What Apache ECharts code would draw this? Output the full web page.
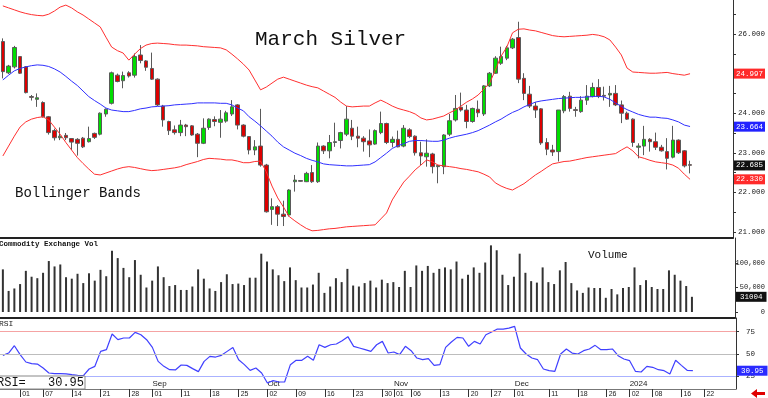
<!DOCTYPE html>
<html>
<head>
<meta charset="utf-8">
<script src="https://cdn.jsdelivr.net/npm/echarts@6/dist/echarts.min.js"></script>
<style>
  html, body { margin: 0; padding: 0; background: #fff; }
  #chart { width: 768px; height: 398px; }
</style>
</head>
<body>
<div id="chart"></div>
<script>
// trading days shown on the axis (last 7 are empty future slots)
const tradingDays = {
  '2023-07': [27, 28, 31],
  '2023-08': [1, 2, 3, 4, 7, 8, 9, 10, 11, 14, 15, 16, 17, 18, 21, 22, 23, 24, 25, 28, 29, 30, 31],
  '2023-09': [1, 5, 6, 7, 8, 11, 12, 13, 14, 15, 18, 19, 20, 21, 22, 25, 26, 27, 28, 29],
  '2023-10': [2, 3, 4, 5, 6, 9, 10, 11, 12, 13, 16, 17, 18, 19, 20, 23, 24, 25, 26, 27, 30, 31],
  '2023-11': [1, 2, 3, 6, 7, 8, 9, 10, 13, 14, 15, 16, 17, 20, 21, 22, 24, 27, 28, 29, 30],
  '2023-12': [1, 4, 5, 6, 7, 8, 11, 12, 13, 14, 15, 18, 19, 20, 21, 22, 26, 27, 28, 29],
  '2024-01': [2, 3, 4, 5, 8, 9, 10, 11, 12, 16, 17, 18, 19, 22, 23, 24, 25, 26, 29],
}

const tickDates = [
  '2023-08-01', '2023-08-07', '2023-08-14', '2023-08-21', '2023-08-28',
  '2023-09-01', '2023-09-11', '2023-09-18', '2023-09-25',
  '2023-10-02', '2023-10-09', '2023-10-16', '2023-10-23', '2023-10-30',
  '2023-11-01', '2023-11-06', '2023-11-13', '2023-11-20', '2023-11-27',
  '2023-12-01', '2023-12-11', '2023-12-18', '2023-12-26',
  '2024-01-02', '2024-01-08', '2024-01-16', '2024-01-22',
]
const monthDates = ['2023-09-01', '2023-10-02', '2023-11-01', '2023-12-01', '2024-01-02']
const monthNames = ['Sep', 'Oct', 'Nov', 'Dec', '2024']

const opens = [
  25.81, 25.02, 25.17, 25.43, 25.17, 24.42, 24.35, 24.27, 23.91, 23.56,
  23.38, 23.44, 23.36, 23.34, 23.37, 23.28, 23.49, 23.47, 23.98, 24.25,
  24.96, 24.82, 25.02, 24.96, 25.47, 25.32, 25.13, 24.86, 24.18, 23.79,
  23.58, 23.51, 23.70, 23.68, 23.47, 23.24, 23.64, 23.84, 23.77, 23.80,
  23.98, 24.21, 23.70, 23.41, 23.07, 23.17, 22.69, 21.57, 21.64, 21.45,
  21.43, 22.27, 22.30, 22.27, 22.50, 22.27, 23.17, 23.05, 23.26, 23.31,
  23.47, 23.62, 23.42, 23.37, 23.30, 23.22, 23.51, 23.74, 23.26, 23.34,
  23.17, 23.58, 23.42, 23.00, 22.90, 22.97, 22.65, 22.65, 23.47, 23.83,
  24.15, 24.08, 23.79, 24.10, 23.98, 24.69, 25.01, 25.26, 25.39, 25.65,
  25.91, 24.88, 24.48, 24.18, 24.11, 23.26, 23.07, 23.03, 24.06, 24.43,
  24.09, 24.04, 24.33, 24.42, 24.65, 24.45, 24.46, 24.50, 24.21, 24.00,
  23.85, 23.14, 23.17, 23.34, 23.28, 23.14, 23.03, 22.89, 23.32, 23.05,
  22.70,
]
const closes = [
  25.05, 25.19, 25.66, 25.01, 24.52, 24.40, 24.39, 23.91, 23.51, 23.38,
  23.42, 23.38, 23.27, 23.24, 23.15, 23.36, 23.39, 24.00, 24.10, 25.02,
  24.80, 24.95, 24.94, 25.43, 25.33, 25.16, 24.86, 24.21, 23.83, 23.56,
  23.51, 23.70, 23.66, 23.45, 23.24, 23.62, 23.85, 23.79, 23.85, 24.01,
  24.16, 23.70, 23.42, 23.07, 23.15, 22.69, 21.51, 21.64, 21.45, 21.39,
  22.06, 22.31, 22.28, 22.48, 22.27, 23.17, 23.05, 23.26, 23.28, 23.51,
  23.85, 23.42, 23.37, 23.28, 23.20, 23.56, 23.74, 23.26, 23.34, 23.15,
  23.62, 23.41, 23.00, 22.92, 22.99, 22.65, 22.68, 23.45, 23.81, 24.12,
  24.08, 23.79, 24.12, 24.01, 24.69, 25.01, 25.39, 25.43, 25.65, 25.87,
  24.86, 24.50, 24.18, 24.08, 23.25, 23.09, 23.02, 24.08, 24.42, 24.12,
  24.07, 24.33, 24.43, 24.65, 24.42, 24.43, 24.50, 24.21, 24.00, 23.85,
  23.26, 23.17, 23.34, 23.28, 23.14, 23.05, 22.86, 23.32, 23.00, 22.67,
  22.685,
]
const highs = [
  25.89, 25.22, 25.70, 25.44, 25.19, 24.46, 24.50, 24.30, 23.93, 23.61,
  23.64, 23.50, 23.37, 23.37, 23.40, 23.66, 23.51, 24.02, 24.12, 25.05,
  25.00, 25.05, 25.06, 25.51, 25.72, 25.34, 25.53, 24.88, 24.21, 23.81,
  23.69, 23.83, 23.73, 23.70, 23.50, 23.87, 23.87, 23.92, 24.08, 24.06,
  24.33, 24.23, 23.72, 23.42, 23.32, 24.11, 22.72, 21.85, 21.68, 21.79,
  22.08, 22.44, 22.31, 22.52, 22.69, 23.26, 23.19, 23.45, 23.76, 23.53,
  24.18, 23.83, 23.66, 23.42, 23.59, 23.59, 24.04, 23.76, 23.41, 23.56,
  23.70, 23.62, 23.44, 23.28, 23.34, 23.00, 22.69, 23.47, 23.98, 24.46,
  24.52, 24.21, 24.14, 24.32, 24.71, 25.04, 25.44, 25.68, 25.70, 25.90,
  26.31, 25.01, 24.69, 24.28, 24.13, 23.37, 23.20, 24.08, 24.46, 24.54,
  24.16, 24.43, 24.71, 24.77, 24.86, 24.67, 24.69, 24.71, 24.32, 24.04,
  23.87, 23.24, 23.68, 23.37, 23.51, 23.20, 23.37, 23.68, 23.34, 23.07,
  22.80,
]
const lows = [
  24.88, 24.99, 25.13, 24.99, 24.50, 24.32, 24.16, 23.89, 23.46, 23.31,
  23.32, 23.32, 23.07, 22.93, 23.12, 23.26, 23.35, 23.44, 23.91, 24.22,
  24.78, 24.63, 24.90, 24.90, 25.26, 25.07, 24.84, 24.18, 23.66, 23.45,
  23.46, 23.42, 23.42, 23.43, 22.89, 23.22, 23.58, 23.67, 23.38, 23.76,
  23.93, 23.59, 23.39, 22.96, 22.94, 22.65, 21.49, 21.18, 21.15, 21.15,
  21.39, 22.02, 22.27, 22.26, 22.24, 22.24, 22.97, 22.86, 23.15, 23.11,
  23.42, 23.32, 23.14, 23.03, 22.89, 23.20, 23.47, 23.22, 23.14, 23.14,
  23.14, 23.37, 22.93, 22.69, 22.65, 22.48, 22.23, 22.46, 23.42, 23.79,
  24.04, 23.62, 23.76, 23.90, 23.93, 24.66, 24.99, 25.22, 25.34, 25.62,
  24.76, 24.33, 24.13, 23.88, 23.20, 22.94, 22.92, 22.78, 24.00, 24.04,
  23.91, 24.01, 24.21, 24.40, 24.38, 24.32, 24.16, 24.18, 23.75, 23.83,
  23.15, 22.86, 22.94, 23.03, 23.07, 23.03, 22.58, 22.86, 22.97, 22.63,
  22.48,
]

// Bollinger bands
const upperBand = [
  26.71, 26.66, 26.61, 26.56, 26.52, 26.49, 26.47, 26.46, 26.50, 26.58,
  26.68, 26.73, 26.66, 26.56, 26.48, 26.38, 26.28, 26.18, 25.92, 25.67,
  25.58, 25.52, 25.34, 25.49, 25.63, 25.72, 25.76, 25.77, 25.76, 25.75,
  25.73, 25.72, 25.72, 25.71, 25.70, 25.68, 25.67, 25.66, 25.65, 25.60,
  25.49, 25.37, 25.24, 25.09, 24.84, 24.59, 24.66, 24.76, 24.86, 24.91,
  24.86, 24.81, 24.76, 24.71, 24.67, 24.64, 24.56, 24.48, 24.40, 24.28,
  24.18, 24.16, 24.17, 24.18, 24.18, 24.26, 24.33, 24.26, 24.18, 24.12,
  24.08, 24.04, 23.98, 23.88, 23.83, 23.85, 23.89, 23.93, 24.01, 24.08,
  24.18, 24.28, 24.36, 24.46, 24.61, 24.76, 25.09, 25.44, 25.67, 26.03,
  26.12, 26.13, 26.10, 26.08, 26.04, 26.00, 25.96, 25.94, 25.93, 25.94,
  25.95, 25.96, 25.97, 25.99, 25.97, 25.93, 25.85, 25.67, 25.47, 25.14,
  25.04, 25.03, 25.02, 25.01, 25.01, 25.02, 25.03, 25.00, 24.98, 24.96,
  24.997,
]
const middleBand = [
  24.84, 24.96, 25.07, 25.13, 25.17, 25.20, 25.22, 25.21, 25.18, 25.12,
  25.04, 24.93, 24.81, 24.70, 24.56, 24.42, 24.32, 24.23, 24.13, 24.08,
  24.06, 24.04, 24.04, 24.07, 24.11, 24.13, 24.16, 24.17, 24.18, 24.19,
  24.21, 24.22, 24.23, 24.24, 24.26, 24.26, 24.26, 24.26, 24.25, 24.25,
  24.21, 24.13, 24.06, 23.91, 23.80, 23.68, 23.55, 23.42, 23.27, 23.15,
  23.07, 22.99, 22.93, 22.86, 22.81, 22.77, 22.72, 22.70, 22.69, 22.68,
  22.67, 22.67, 22.68, 22.69, 22.70, 22.77, 22.88, 22.99, 23.11, 23.18,
  23.23, 23.29, 23.31, 23.31, 23.30, 23.29, 23.29, 23.32, 23.37, 23.41,
  23.44, 23.47, 23.51, 23.56, 23.63, 23.70, 23.78, 23.85, 23.94, 24.02,
  24.08, 24.16, 24.22, 24.28, 24.31, 24.33, 24.35, 24.37, 24.38, 24.39,
  24.40, 24.40, 24.41, 24.42, 24.43, 24.41, 24.35, 24.26, 24.17, 24.09,
  24.03, 23.97, 23.93, 23.90, 23.90, 23.88, 23.87, 23.83, 23.78, 23.70,
  23.664,
]
const lowerBand = [
  22.92, 23.17, 23.42, 23.65, 23.78, 23.85, 23.89, 23.91, 23.83, 23.65,
  23.47, 23.26, 23.07, 22.88, 22.73, 22.59, 22.46, 22.44, 22.49, 22.54,
  22.59, 22.63, 22.65, 22.63, 22.60, 22.57, 22.55, 22.56, 22.58, 22.60,
  22.62, 22.65, 22.70, 22.74, 22.78, 22.83, 22.86, 22.85, 22.84, 22.82,
  22.82, 22.79, 22.75, 22.75, 22.78, 22.79, 22.52, 22.16, 21.86, 21.63,
  21.39, 21.28, 21.18, 21.09, 21.03, 21.04, 21.06, 21.08, 21.09, 21.11,
  21.13, 21.14, 21.15, 21.16, 21.17, 21.18, 21.33, 21.48, 21.81, 22.04,
  22.26, 22.41, 22.57, 22.69, 22.82, 22.77, 22.69, 22.67, 22.65, 22.63,
  22.60, 22.58, 22.55, 22.52, 22.46, 22.39, 22.24, 22.16, 22.10, 22.06,
  22.14, 22.22, 22.33, 22.44, 22.53, 22.63, 22.72, 22.75, 22.78, 22.79,
  22.82, 22.85, 22.88, 22.90, 22.92, 22.94, 22.96, 22.98, 23.07, 23.15,
  23.05, 22.90, 22.86, 22.81, 22.77, 22.75, 22.73, 22.69, 22.61, 22.46,
  22.330,
]

const volumes = [
  87000, 43000, 48000, 57000, 84000, 72000, 69000, 80000, 104000, 93000,
  97000, 71000, 68000, 78000, 59000, 79000, 64000, 86000, 73000, 125000,
  110000, 90000, 71000, 106000, 76000, 50000, 64000, 93000, 71000, 53000,
  55000, 45000, 45000, 52000, 87000, 68000, 48000, 43000, 61000, 77000,
  57000, 58000, 55000, 70000, 70000, 119000, 103000, 87000, 75000, 63000,
  91000, 65000, 50000, 50000, 56000, 80000, 39000, 52000, 69000, 61000,
  88000, 54000, 52000, 59000, 64000, 50000, 66000, 59000, 61000, 51000,
  84000, 51000, 95000, 84000, 94000, 80000, 88000, 91000, 87000, 103000,
  68000, 76000, 91000, 80000, 101000, 136000, 126000, 76000, 55000, 72000,
  119000, 80000, 63000, 60000, 91000, 61000, 57000, 85000, 102000, 59000,
  44000, 39000, 50000, 49000, 49000, 29000, 47000, 36000, 49000, 51000,
  91000, 55000, 65000, 51000, 47000, 47000, 85000, 76000, 64000, 53000,
  31004,
]

const rsi = [
  48.3, 50.9, 59.2, 49.1, 40.8, 38.9, 38.5, 34.0, 28.4, 27.6,
  27.6, 27.3, 26.5, 25.8, 25.4, 32.9, 35.9, 52.8, 54.7, 72.4,
  66.0, 67.9, 67.9, 74.3, 71.6, 66.0, 57.3, 41.5, 35.9, 32.1,
  31.8, 37.4, 37.0, 33.3, 29.9, 41.5, 47.2, 46.4, 48.3, 52.8,
  57.3, 43.4, 37.8, 31.4, 34.0, 28.4, 17.1, 19.7, 18.2, 18.2,
  37.8, 42.7, 42.7, 47.2, 42.7, 60.3, 57.3, 60.3, 61.1, 64.9,
  69.4, 58.5, 56.6, 54.7, 52.8, 60.3, 64.1, 51.0, 52.1, 49.1,
  58.5, 53.6, 45.3, 43.4, 44.6, 37.0, 37.8, 57.3, 63.4, 68.6,
  67.9, 58.5, 64.1, 61.1, 71.6, 74.6, 78.0, 78.0, 79.1, 81.0,
  56.6, 49.8, 45.3, 43.4, 32.9, 31.0, 30.3, 49.8, 55.5, 50.9,
  49.8, 53.6, 55.5, 59.6, 54.7, 54.7, 55.5, 47.9, 44.2, 42.3,
  30.3, 29.5, 35.9, 34.8, 32.1, 31.0, 27.3, 42.7, 37.0, 31.4,
  30.95,
]

const priceLabels = [21, 22, 23, 24, 25, 26]
const priceTicks = [21, 21.5, 22, 22.5, 23, 23.5, 24, 24.5, 25, 25.5, 26, 26.5]
const volumeLabels = [0, 50000, 100000]
const rsiLabels = [25, 50, 75]

const dates = []
Object.keys(tradingDays).forEach(m => {
  tradingDays[m].forEach(d => dates.push(m + '-' + String(d).padStart(2, '0')))
})
const tickSet = new Set(tickDates)
const monthLabel = {}
monthDates.forEach((d, i) => { monthLabel[d] = monthNames[i] })
const last = arr => arr[arr.length - 1]

const MONO = 'Liberation Mono'
const SANS = 'Liberation Sans'

// coloured value tag sitting on the right axis
function tag(value, bg, text, pad) {
  return {
    yAxis: value,
    lineStyle: { color: 'rgba(0,0,0,0)', width: 1 },
    label: {
      show: true,
      position: 'end',
      distance: 1,
      opacity: 1,
      formatter: () => text,
      backgroundColor: bg,
      color: '#fff',
      fontFamily: MONO,
      fontSize: 7.5,
      lineHeight: 8,
      padding: [1, pad || 2],
    },
  }
}

function baseX(gridIndex) {
  return {
    type: 'category',
    gridIndex,
    data: dates,
    boundaryGap: true,
    axisLine: { onZero: false, lineStyle: { color: '#222', width: 2 } },
    axisTick: { show: false },
    axisLabel: { show: false },
    splitLine: { show: false },
  }
}

function baseY(gridIndex, min, max, labels, ticks) {
  return {
    type: 'value',
    gridIndex,
    position: 'right',
    min,
    max,
    splitLine: { show: false },
    axisLine: { show: true, lineStyle: { color: '#333' } },
    axisTick: { show: true, customValues: ticks || labels, length: 3, lineStyle: { color: '#333' } },
    axisLabel: { customValues: labels, fontFamily: MONO, fontSize: 7.5, color: '#222', margin: 5 },
  }
}

const chart = echarts.init(document.getElementById('chart'), null, { renderer: 'canvas' })

const priceY = baseY(0, 20.848, 26.859, priceLabels, priceTicks)
priceY.axisLabel.formatter = v => v.toFixed(3)
const volY = baseY(1, -12245, 151020, volumeLabels)
volY.axisLabel.align = 'right'
volY.axisLabel.margin = 30
volY.axisLabel.fontSize = 7
const rsiY = baseY(2, 10.3, 90.5, rsiLabels)
rsiY.axisLabel.margin = 10

const rsiX = baseX(2)
rsiX.axisLine = { onZero: false, lineStyle: { color: '#777', width: 1 } }
rsiX.axisTick = {
  show: true, alignWithLabel: true, length: 8,
  interval: (i, v) => tickSet.has(v),
  lineStyle: { color: '#333' },
}
rsiX.axisLabel = {
  show: true,
  interval: (i, v) => tickSet.has(v),
  formatter: v => v.slice(8),
  align: 'left',
  padding: [0, 0, 0, 2],
  margin: 2,
  fontFamily: SANS,
  fontSize: 7,
  color: '#222',
}
const monthX = baseX(2)
monthX.position = 'bottom'
monthX.axisLine = { show: false }
monthX.axisLabel = {
  show: true,
  inside: true,
  interval: (i, v) => v in monthLabel,
  formatter: v => monthLabel[v],
  align: 'left',
  verticalAlign: 'bottom',
  margin: 1,
  fontFamily: SANS,
  fontSize: 8,
  color: '#222',
}

const option = {
  animation: false,
  backgroundColor: '#fff',
  grid: [
    { left: 0, right: 32, top: 0, height: 238 },
    { left: 0, right: 32, top: 238, height: 80 },
    { left: 0, right: 32, top: 318, height: 71 },
  ],
  xAxis: [baseX(0), baseX(1), rsiX, monthX],
  yAxis: [priceY, volY, rsiY],
  series: [
    {
      type: 'candlestick',
      xAxisIndex: 0, yAxisIndex: 0,
      data: opens.map((o, i) => [o, closes[i], lows[i], highs[i]]),
      barWidth: 4,
      itemStyle: {
        color: '#00dd00', color0: '#dd0000',
        borderColor: '#5a5a5a', borderColor0: '#5a5a5a', borderWidth: 1,
      },
      markLine: { symbol: 'none', silent: true, data: [tag(last(closes), '#111', last(closes).toFixed(3))] },
    },
    {
      type: 'line', xAxisIndex: 0, yAxisIndex: 0, data: upperBand,
      symbol: 'none', lineStyle: { color: '#ff3030', width: 1 },
      markLine: { symbol: 'none', silent: true, data: [tag(last(upperBand), '#ff2a2a', last(upperBand).toFixed(3))] },
    },
    {
      type: 'line', xAxisIndex: 0, yAxisIndex: 0, data: middleBand,
      symbol: 'none', lineStyle: { color: '#3030ff', width: 1 },
      markLine: { symbol: 'none', silent: true, data: [tag(last(middleBand), '#2222ff', last(middleBand).toFixed(3))] },
    },
    {
      type: 'line', xAxisIndex: 0, yAxisIndex: 0, data: lowerBand,
      symbol: 'none', lineStyle: { color: '#ff3030', width: 1 },
      markLine: { symbol: 'none', silent: true, data: [tag(last(lowerBand), '#ff2a2a', last(lowerBand).toFixed(3))] },
    },
    {
      type: 'bar', xAxisIndex: 1, yAxisIndex: 1, data: volumes,
      barWidth: 2, itemStyle: { color: '#333' },
      markLine: { symbol: 'none', silent: true, data: [tag(last(volumes), '#111', String(last(volumes)), 4)] },
    },
    {
      type: 'line', xAxisIndex: 2, yAxisIndex: 2, data: rsi,
      symbol: 'none', lineStyle: { color: '#4040ff', width: 1.2 },
      markLine: {
        symbol: 'none', silent: true,
        data: [
          { yAxis: 75, lineStyle: { color: '#f5a3a3', width: 1, type: 'solid' }, label: { show: false } },
          { yAxis: 50, lineStyle: { color: '#bdbdbd', width: 1, type: 'solid' }, label: { show: false } },
          { yAxis: 25, lineStyle: { color: '#aab2ff', width: 1, type: 'solid' }, label: { show: false } },
          tag(last(rsi), '#2a2aff', last(rsi).toFixed(2), 4),
        ],
      },
    },
  ],
  graphic: [
    { type: 'text', left: 255, top: 29, style: { text: 'March Silver', font: '21px "Liberation Mono"', fill: '#111' } },
    { type: 'text', left: 15, top: 186, style: { text: 'Bollinger Bands', font: '14px "Liberation Mono"', fill: '#111' } },
    { type: 'text', left: -1, top: 240, style: { text: 'Commodity Exchange Vol', font: 'bold 7.5px "Liberation Mono"', fill: '#111' } },
    { type: 'text', left: 588, top: 250, style: { text: 'Volume', font: '11px "Liberation Mono"', fill: '#111' } },
    { type: 'text', left: -1, top: 320, style: { text: 'RSI', font: '8px "Liberation Mono"', fill: '#222' } },
    { type: 'rect', shape: { x: -1, y: 376, width: 86, height: 13 }, style: { fill: '#fff', stroke: '#888', lineWidth: 1 }, z: 50 },
    { type: 'text', left: -3, top: 377, z: 51, style: { text: 'RSI=', font: '12px "Liberation Mono"', fill: '#111' } },
    { type: 'text', right: 768 - 84, top: 377, z: 51, style: { text: last(rsi).toFixed(2), font: '12px "Liberation Mono"', fill: '#111' } },
    { type: 'polygon', shape: { points: [[751, 393.5], [757, 389], [757, 392], [765, 392], [765, 395], [757, 395], [757, 398]] }, style: { fill: '#e00000' } },
  ],
}

chart.setOption(option)
</script>
</body>
</html>
